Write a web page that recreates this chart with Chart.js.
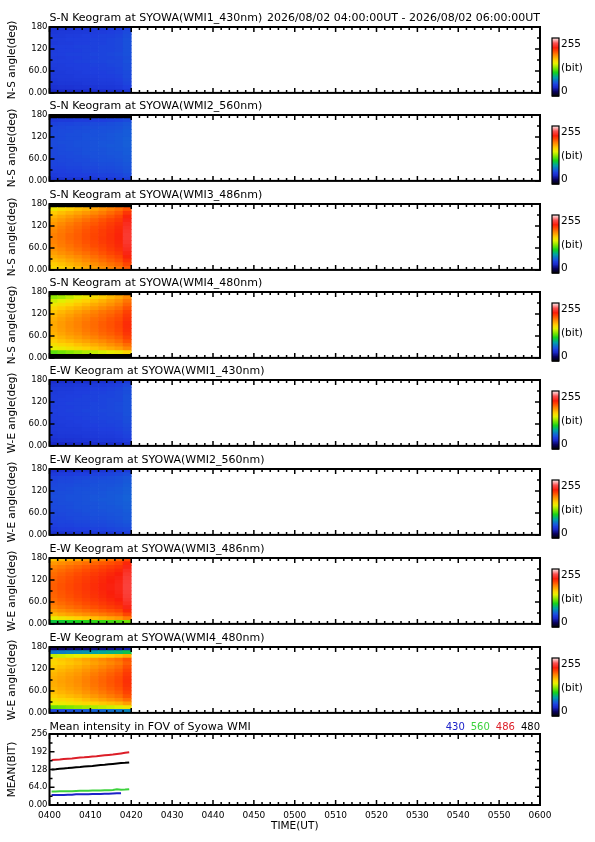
<!DOCTYPE html>
<html>
<head>
<meta charset="utf-8">
<script src="https://cdn.jsdelivr.net/npm/chart.js@4.4.1/dist/chart.umd.min.js"></script>
<style>
  body { margin: 0; background: #fff; width: 595px; height: 842px; position: relative; overflow: hidden; }
  canvas { position: absolute; left: 0; }
</style>
</head>
<body>
<script>
// ---- keogram data: 10 columns of 2 minutes (04:00-04:20), 18 rows of 10 deg, rows listed top (180) to bottom (0)
var keoTimes = [1, 3, 5, 7, 9, 11, 13, 15, 17, 19];
var angleEdges = [180, 170, 160, 150, 140, 130, 120, 110, 100, 90, 80, 70, 60, 50, 40, 30, 20, 10, 0];

var snWmi1 = [
  [45,46,46,47,47,48,48,49,50,53],
  [48,49,49,50,50,51,51,52,53,56],
  [50,50,51,51,52,52,53,53,54,57],
  [51,51,52,52,52,53,53,54,55,58],
  [50,51,51,52,52,53,53,54,55,58],
  [52,52,52,53,53,53,54,54,55,58],
  [51,52,52,52,53,53,54,54,55,58],
  [52,52,53,53,53,54,54,55,56,58],
  [51,51,52,52,53,53,54,54,55,57],
  [52,52,52,53,53,54,54,55,55,58],
  [51,51,52,52,52,53,53,54,55,57],
  [50,51,51,52,52,52,53,53,54,57],
  [50,50,51,51,52,52,52,53,54,56],
  [49,50,50,51,51,51,52,52,53,56],
  [48,49,49,50,50,50,51,51,52,55],
  [47,48,48,48,49,49,50,50,51,54],
  [45,46,46,47,47,47,48,48,49,52],
  [41,42,42,43,43,44,44,45,45,48]
];
var snWmi2 = [
  [0,0,0,0,0,0,0,0,0,0],
  [49,50,50,51,51,52,52,53,54,56],
  [53,54,54,55,55,56,56,57,58,60],
  [55,55,56,56,57,57,58,58,59,61],
  [55,56,56,57,57,58,58,59,60,62],
  [56,56,57,57,58,58,59,60,61,62],
  [55,56,57,57,58,59,59,60,61,63],
  [56,57,57,58,58,59,60,60,61,63],
  [56,56,57,58,58,59,60,61,61,63],
  [55,56,57,57,58,59,59,60,61,62],
  [55,56,56,57,58,58,59,60,60,62],
  [55,55,56,56,57,58,58,59,60,61],
  [54,55,55,56,56,57,58,58,59,61],
  [54,54,55,55,56,56,57,57,58,60],
  [53,53,54,54,55,55,56,56,57,59],
  [52,52,53,53,54,54,55,55,56,58],
  [50,51,51,52,52,52,53,53,54,56],
  [47,47,48,48,49,49,50,50,51,53]
];
var snWmi3 = [
  [0,0,0,0,0,0,0,0,0,0],
  [150,156,161,166,170,175,180,185,190,198],
  [162,166,170,174,178,182,186,191,196,207],
  [169,173,177,181,185,189,193,197,202,213],
  [174,178,182,186,190,194,198,202,206,218],
  [178,182,186,190,194,197,201,205,209,221],
  [181,185,189,192,196,200,203,207,211,223],
  [183,187,190,194,198,201,205,208,212,225],
  [185,188,192,195,199,202,205,209,213,226],
  [185,188,192,195,199,202,206,209,213,226],
  [184,187,191,194,198,201,205,208,212,225],
  [182,186,189,193,196,200,203,207,211,223],
  [180,183,187,190,194,197,201,205,209,221],
  [176,180,183,187,190,194,198,202,206,218],
  [172,175,179,182,186,190,194,198,202,213],
  [167,170,174,178,182,186,190,194,198,208],
  [162,165,169,173,177,181,185,189,193,202],
  [157,160,164,168,172,176,180,184,188,196]
];
var snWmi4 = [
  [0,0,0,0,0,0,0,0,0,0],
  [128,132,138,144,150,156,162,168,174,182],
  [140,144,150,155,160,165,170,175,180,188],
  [150,154,158,163,167,172,176,180,185,193],
  [158,162,166,170,174,178,182,186,190,198],
  [164,168,172,176,180,184,188,191,195,203],
  [168,172,176,180,184,187,191,194,198,206],
  [171,175,179,183,186,190,193,197,200,208],
  [173,177,181,184,188,191,195,198,202,210],
  [173,177,181,184,188,191,195,198,202,210],
  [172,176,180,183,187,190,194,197,201,209],
  [170,174,178,181,185,188,192,195,199,207],
  [166,170,174,177,181,184,188,191,195,203],
  [161,165,168,172,175,179,182,186,190,198],
  [154,158,161,165,168,172,176,180,184,191],
  [145,148,152,156,160,164,168,172,176,183],
  [118,122,126,130,134,138,142,146,150,158],
  [0,0,0,0,0,0,0,0,0,0]
];
var ewWmi1 = [
  [42,43,43,44,44,45,45,46,47,50],
  [47,48,48,49,49,50,50,51,52,55],
  [49,50,50,51,51,52,52,53,54,57],
  [50,51,51,52,52,53,53,54,55,57],
  [51,51,52,52,53,53,54,54,55,58],
  [51,52,52,53,53,53,54,55,55,58],
  [52,52,53,53,53,54,54,55,56,58],
  [51,52,52,53,53,54,54,55,56,58],
  [52,52,53,53,54,54,55,55,56,58],
  [51,52,52,53,53,54,54,55,55,58],
  [51,51,52,52,53,53,54,54,55,57],
  [50,51,51,52,52,53,53,54,54,57],
  [50,50,51,51,52,52,53,53,54,56],
  [49,50,50,50,51,51,52,52,53,55],
  [48,49,49,50,50,50,51,51,52,54],
  [47,48,48,48,49,49,50,50,51,53],
  [45,46,46,47,47,47,48,48,49,51],
  [40,41,41,42,42,43,43,44,44,46]
];
var ewWmi2 = [
  [44,45,45,46,46,47,47,48,49,51],
  [50,51,51,52,52,53,53,54,55,57],
  [53,54,54,55,55,56,56,57,58,60],
  [54,55,55,56,57,57,58,58,59,61],
  [55,56,56,57,57,58,59,59,60,62],
  [56,56,57,58,58,59,59,60,61,63],
  [56,57,57,58,59,59,60,61,61,63],
  [57,57,58,58,59,60,60,61,62,64],
  [56,57,58,58,59,60,61,61,62,64],
  [56,57,57,58,59,59,60,61,62,63],
  [56,56,57,58,58,59,60,60,61,63],
  [55,56,56,57,58,58,59,60,60,62],
  [55,55,56,56,57,58,58,59,60,61],
  [54,54,55,56,56,57,57,58,59,61],
  [53,54,54,55,55,56,56,57,58,60],
  [52,53,53,54,54,55,55,56,57,58],
  [50,51,51,52,52,53,53,54,55,56],
  [46,47,47,48,48,49,49,50,51,52]
];
var ewWmi3 = [
  [165,168,171,174,177,180,184,188,192,200],
  [178,181,184,187,190,193,196,199,203,212],
  [184,187,190,193,196,199,202,205,208,218],
  [188,191,194,197,200,203,206,209,212,222],
  [191,194,197,200,203,206,209,212,215,225],
  [193,196,199,202,205,208,211,214,217,227],
  [194,197,200,203,206,209,212,215,218,228],
  [195,198,201,204,207,210,213,216,219,229],
  [195,198,201,204,207,210,213,216,219,229],
  [194,197,200,203,206,209,212,215,218,228],
  [193,196,199,202,205,208,211,214,217,227],
  [191,194,197,200,203,206,209,212,215,225],
  [188,191,194,197,200,203,206,209,212,222],
  [184,187,190,193,196,199,202,205,208,218],
  [178,181,184,187,190,193,196,199,202,212],
  [168,172,175,178,181,184,187,190,193,202],
  [145,150,155,160,163,166,170,174,178,186],
  [100,102,104,106,108,110,112,114,116,122]
];
var ewWmi4 = [
  [22,22,24,24,25,26,27,28,30,35],
  [70,72,75,78,80,83,86,89,92,98],
  [138,140,143,146,150,154,158,162,166,172],
  [160,163,166,170,174,178,182,186,190,198],
  [158,161,164,167,171,175,179,183,187,195],
  [162,165,168,171,175,179,183,187,191,199],
  [166,169,172,175,179,183,187,191,195,203],
  [169,172,175,178,182,186,190,194,198,206],
  [171,174,177,180,184,188,192,196,200,208],
  [172,175,178,181,185,189,193,197,201,209],
  [171,174,177,180,184,188,192,196,200,208],
  [169,172,175,178,182,186,190,194,198,206],
  [166,169,172,175,179,183,187,191,195,203],
  [161,164,167,170,174,178,182,186,190,198],
  [154,157,160,163,167,171,175,179,183,190],
  [145,148,151,154,157,160,163,166,169,176],
  [120,122,125,128,131,134,137,140,143,150],
  [55,56,58,60,62,64,66,68,70,75]
];

var keoGrids = [snWmi1, snWmi2, snWmi3, snWmi4, ewWmi1, ewWmi2, ewWmi3, ewWmi4];
var keoTitles = [
  'S-N Keogram at SYOWA(WMI1_430nm)', 'S-N Keogram at SYOWA(WMI2_560nm)',
  'S-N Keogram at SYOWA(WMI3_486nm)', 'S-N Keogram at SYOWA(WMI4_480nm)',
  'E-W Keogram at SYOWA(WMI1_430nm)', 'E-W Keogram at SYOWA(WMI2_560nm)',
  'E-W Keogram at SYOWA(WMI3_486nm)', 'E-W Keogram at SYOWA(WMI4_480nm)'
];
var keoAxisTitles = ['N-S angle(deg)', 'N-S angle(deg)', 'N-S angle(deg)', 'N-S angle(deg)',
  'W-E angle(deg)', 'W-E angle(deg)', 'W-E angle(deg)', 'W-E angle(deg)'];
var angleTickLabels = ['0.00', '60.0', '120', '180'];
var dateRange = '2026/08/02 04:00:00UT - 2026/08/02 06:00:00UT';

// ---- mean intensity (minutes after 04:00)
var meanTimes = [0.5,1.5,2.5,3.5,4.5,5.5,6.5,7.5,8.5,9.5,10.5,11.5,12.5,13.5,14.5,15.5,16.5,17.5,18.5,19.5];
var mean430 = [36,36,36.5,36.5,37,37,38.5,38.5,39,39,39.5,40,40,40.5,41,41.5,42,42.5,null,null];
var mean560 = [49,49,49.5,49.5,50,50,50.5,51,51,51.5,52,52,52.5,53,53.5,54,56.5,55,55.5,57];
var mean486 = [162,163,164,165.5,167,168,169.5,171,172,173.5,175,176,177.5,179,180.5,182,184,186,188,190];
var mean480 = [128,129,130.5,132,133,134.5,136,137,138.5,140,141,142.5,144,145,146.5,148,149.5,151,152,153.5];
var meanNames = ['430', '560', '486', '480'];
var meanTickLabels = ['0.00', '64.0', '128', '192', '256'];
var timeTickLabels = ['0400','0410','0420','0430','0440','0450','0500','0510','0520','0530','0540','0550','0600'];

// ---- styles / layout
var seriesColors = ['#1c22c8', '#3cd23c', '#dc1e28', '#000000'];
var cmapStops = [
  [0, 0, 0, 0], [20, 10, 0, 90], [40, 25, 40, 200], [52, 30, 62, 222], [65, 20, 100, 215],
  [85, 0, 165, 160], [105, 20, 210, 30], [125, 130, 230, 0], [145, 230, 240, 0],
  [160, 255, 210, 0], [180, 255, 145, 0], [200, 255, 75, 0], [215, 250, 30, 10],
  [235, 250, 80, 80], [255, 255, 220, 220]
];
var panelTops = [27, 115, 204, 292, 380, 469, 558, 647];
var PANEL_H = 67;
var FONT = '"DejaVu Sans", sans-serif';

Chart.defaults.font.family = FONT;
Chart.defaults.color = '#000';

function colorFor(v) {
  for (var i = 1; i < cmapStops.length; i++) {
    if (v <= cmapStops[i][0]) {
      var a = cmapStops[i - 1], b = cmapStops[i];
      var f = (v - a[0]) / (b[0] - a[0]);
      return 'rgb(' + [1, 2, 3].map(function (k) { return Math.round(a[k] + (b[k] - a[k]) * f); }).join(',') + ')';
    }
  }
  return 'rgb(255,220,220)';
}

function keoCells(grid) {
  var cells = [];
  grid.forEach(function (row, r) {
    row.forEach(function (v, c) {
      cells.push({ x: keoTimes[c], y: [angleEdges[r + 1], angleEdges[r]], v: v });
    });
  });
  return cells;
}

function makeCanvas(top, height) {
  var c = document.createElement('canvas');
  c.width = 595; c.height = height;
  c.style.top = top + 'px';
  c.style.width = '595px'; c.style.height = height + 'px';
  document.body.appendChild(c);
  return c;
}

// frame, inward ticks, titles, colour bar, legend
var panelDecor = {
  id: 'panelDecor',
  afterDraw: function (chart, args, opts) {
    var ctx = chart.ctx, a = chart.chartArea, x = chart.scales.x, y = chart.scales.y;
    ctx.save();
    ctx.fillStyle = '#000';
    ctx.font = '11px ' + FONT;
    ctx.textBaseline = 'alphabetic';
    ctx.textAlign = 'left';
    ctx.fillText(opts.title, a.left, a.top - opts.titleGap);
    if (opts.date) {
      ctx.textAlign = 'right';
      ctx.fillText(opts.date, a.right, a.top - opts.titleGap);
    }
    if (opts.legend) {
      ctx.font = '10px ' + FONT;
      ctx.textAlign = 'right';
      var lx = a.right;
      for (var k = opts.legend.length - 1; k >= 0; k--) {
        ctx.fillStyle = opts.legendColors[k];
        ctx.fillText(opts.legend[k], lx, a.top - opts.titleGap);
        lx -= ctx.measureText(opts.legend[k]).width + 6;
      }
    }

    ctx.strokeStyle = '#000';
    ctx.lineWidth = 1.5;
    ctx.beginPath();
    for (var m = 0; m <= 120; m += 2) {
      var px = x.getPixelForValue(m);
      var len = m % 10 === 0 ? 5 : 3;
      ctx.moveTo(px, a.top); ctx.lineTo(px, a.top + len);
      ctx.moveTo(px, a.bottom); ctx.lineTo(px, a.bottom - len);
    }
    for (var v = 0; v <= y.max; v += opts.yStep) {
      var py = y.getPixelForValue(v);
      var l2 = v % opts.yMajor === 0 ? 5 : 3;
      ctx.moveTo(a.left, py); ctx.lineTo(a.left + l2, py);
      ctx.moveTo(a.right, py); ctx.lineTo(a.right - l2, py);
    }
    ctx.stroke();
    ctx.lineWidth = 2;
    ctx.strokeRect(a.left, a.top, a.right - a.left, a.bottom - a.top);

    if (opts.colorbar) {
      var cx = 552, cw = 7, ct = a.top + 11, ch = 58;
      for (var c = 0; c < 256; c++) {
        ctx.fillStyle = colorFor(c);
        ctx.fillRect(cx, ct + ch - (c + 1) * ch / 256, cw, ch / 256 + 0.5);
      }
      ctx.lineWidth = 1.2;
      ctx.strokeRect(cx, ct, cw, ch);
      ctx.fillStyle = '#000';
      ctx.font = '10.5px ' + FONT;
      ctx.textAlign = 'left';
      ctx.textBaseline = 'middle';
      ctx.fillText('255', cx + cw + 2, ct + 6);
      ctx.fillText('(bit)', cx + cw + 2, ct + 30);
      ctx.fillText('0', cx + cw + 2, ct + ch - 5);
    }
    ctx.restore();
  }
};

function keogramChart(i) {
  var canvas = makeCanvas(panelTops[i] - 27, 100);
  return new Chart(canvas, {
    type: 'bar',
    data: {
      datasets: [{
        data: keoCells(keoGrids[i]),
        backgroundColor: function (c) { return c.raw ? colorFor(c.raw.v) : '#000'; },
        borderWidth: 0,
        barPercentage: 1,
        categoryPercentage: 1
      }]
    },
    options: {
      responsive: false,
      animation: false,
      events: [],
      layout: { padding: { left: 0, top: 27, right: 55, bottom: 100 - 27 - PANEL_H } },
      plugins: {
        legend: { display: false },
        tooltip: { enabled: false },
        panelDecor: {
          title: keoTitles[i], titleGap: 6, date: i === 0 ? dateRange : null,
          colorbar: true, yStep: 30, yMajor: 60
        }
      },
      scales: {
        x: { type: 'linear', display: false, min: 0, max: 120, offset: false, grid: { offset: false }, ticks: { stepSize: 10 } },
        y: {
          min: 0, max: 180,
          afterFit: function (s) { s.width = 49.5; },
          grid: { display: false, drawTicks: false },
          border: { display: false },
          ticks: {
            stepSize: 60, padding: 2, autoSkip: false, font: { size: 8.5 },
            callback: function (v, k) { return angleTickLabels[k]; }
          },
          title: { display: true, text: keoAxisTitles[i], font: { size: 10.5 }, padding: { top: 6, bottom: 0 } }
        }
      }
    },
    plugins: [panelDecor]
  });
}

function meanChart() {
  var canvas = makeCanvas(734 - 27, 135);
  var series = [mean430, mean560, mean486, mean480];
  return new Chart(canvas, {
    type: 'line',
    data: {
      datasets: series.map(function (vals, k) {
        return {
          label: meanNames[k],
          data: meanTimes.map(function (t, j) { return { x: t, y: vals[j] }; }),
          borderColor: seriesColors[k],
          borderWidth: 2,
          pointRadius: 0,
          fill: false,
          tension: 0
        };
      })
    },
    options: {
      responsive: false,
      animation: false,
      events: [],
      layout: { padding: { left: 0, top: 27, right: 55, bottom: 135 - 27 - 71 - 30 } },
      plugins: {
        legend: { display: false },
        tooltip: { enabled: false },
        panelDecor: {
          title: 'Mean intensity in FOV of Syowa WMI', titleGap: 4,
          legend: meanNames, legendColors: seriesColors,
          colorbar: false, yStep: 32, yMajor: 64
        }
      },
      scales: {
        x: {
          type: 'linear', min: 0, max: 120,
          afterFit: function (s) { s.height = 30; },
          grid: { display: false, drawTicks: false },
          border: { display: false },
          ticks: {
            stepSize: 10, autoSkip: false, maxRotation: 0, padding: 5, font: { size: 9 },
            callback: function (v, k) { return timeTickLabels[k]; }
          },
          title: { display: true, text: 'TIME(UT)', font: { size: 10.5 }, padding: { top: 0, bottom: 2 } }
        },
        y: {
          min: 0, max: 256,
          afterFit: function (s) { s.width = 49.5; },
          grid: { display: false, drawTicks: false },
          border: { display: false },
          ticks: {
            stepSize: 64, padding: 2, autoSkip: false, font: { size: 8.5 },
            callback: function (v, k) { return meanTickLabels[k]; }
          },
          title: { display: true, text: 'MEAN(BIT)', font: { size: 10.5 }, padding: { top: 6, bottom: 0 } }
        }
      }
    },
    plugins: [panelDecor]
  });
}

for (var i = 0; i < keoGrids.length; i++) keogramChart(i);
meanChart();
</script>
</body>
</html>
